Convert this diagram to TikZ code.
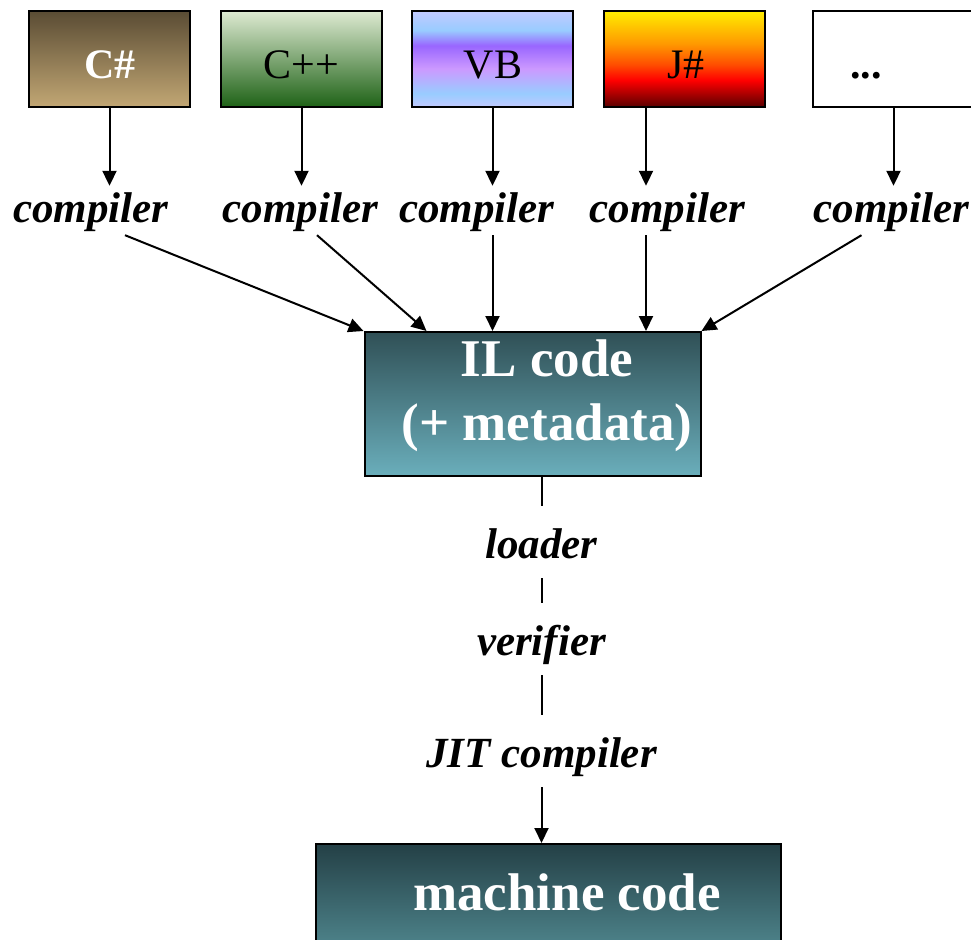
\documentclass[tikz,border=0pt]{standalone}
\usepackage{fontspec}
\setmainfont{Liberation Serif}
\usetikzlibrary{arrows.meta,shadings}
\pgfdeclareverticalshading{vbshade}{100bp}{rgb(0bp)=(0.76,0.79,1); rgb(25bp)=(0.76,0.79,1); rgb(32bp)=(0.6,0.8,1); rgb(45bp)=(0.8,0.6,1); rgb(57bp)=(0.6,0.4,1); rgb(65bp)=(0.6,0.8,1); rgb(75bp)=(0.76,0.79,1); rgb(100bp)=(0.76,0.79,1)}
\pgfdeclareverticalshading{jshade}{100bp}{rgb(0bp)=(0.35,0,0); rgb(25bp)=(0.35,0,0); rgb(39bp)=(1,0,0); rgb(47bp)=(1,0.3,0); rgb(58bp)=(1,0.6,0); rgb(75bp)=(1,0.93,0); rgb(100bp)=(1,0.93,0)}
\definecolor{cstop}{RGB}{90,76,52}
\definecolor{csbot}{RGB}{194,167,116}
\definecolor{cptop}{RGB}{222,234,210}
\definecolor{cpmid}{RGB}{146,180,105}
\definecolor{cpbot}{RGB}{30,98,22}
\definecolor{iltop}{RGB}{48,80,86}
\definecolor{ilbot}{RGB}{106,174,187}
\definecolor{mctop}{RGB}{36,64,70}
\definecolor{mcbot}{RGB}{95,160,168}
\begin{document}
\begin{tikzpicture}[x=1pt,y=-1pt,
  langbox/.style={draw=black, line width=2pt, rectangle, inner sep=0pt, minimum width=161pt, minimum height=96pt},
  bigbox/.style={draw=black, line width=2pt, rectangle, inner sep=0pt},
  boxlab/.style={anchor=base, inner sep=0pt, font=\fontsize{42}{46}\selectfont},
  toplab/.style={anchor=base, inner sep=0pt, text height=36pt, text depth=13pt, font=\fontsize{43}{48}\selectfont\bfseries\itshape},
  midlab/.style={anchor=base, inner sep=0pt, text height=52pt, text depth=20pt, font=\fontsize{43}{48}\selectfont\bfseries\itshape},
  biglab/.style={anchor=base, inner sep=0pt, text=white, font=\fontsize{53}{58}\selectfont\bfseries},
  conn/.style={line width=2pt},
  arr/.style={conn, -{Triangle[length=15pt,width=14pt]}}
]
\useasboundingbox (0,0) rectangle (971,939);
% language boxes
\node[langbox, top color=cstop, bottom color=csbot] (csharp) at (109.5,59) {};
\node[langbox, top color=cptop, middle color=cpmid, bottom color=cpbot] (cpp) at (301.5,59) {};
\node[langbox, shading=vbshade] (vb) at (492.5,59) {};
\node[langbox, shading=jshade] (jsharp) at (684.5,59) {};
\node[langbox, fill=white] (more) at (893.5,59) {};
\node[boxlab, text=white, font=\fontsize{42}{46}\selectfont\bfseries] (tcs) at (110,79) {C\#};
\node[boxlab] (tcp) at (301,79) {C++};
\node[boxlab] (tvb) at (493,79) {VB};
\node[boxlab] (tjs) at (686,79) {J\#};
\node[boxlab, font=\fontsize{42}{46}\selectfont\bfseries] (tmore) at (866,79) {...};
% compiler labels
\node[toplab] (c1) at (91,222) {compiler};
\node[toplab] (c2) at (300.5,222) {compiler};
\node[toplab] (c3) at (477,222) {compiler};
\node[toplab] (c4) at (667.5,222) {compiler};
\node[toplab] (c5) at (891.5,222) {compiler};
% IL box
\node[bigbox, minimum width=336pt, minimum height=143.5pt, top color=iltop, bottom color=ilbot] (il) at (532.5,403.75) {};
\node[biglab] (ilt1) at (547,376.5) {IL code};
\node[biglab] (ilt2) at (547,440) {(+ metadata)};
% machine code box
\node[bigbox, minimum width=465pt, minimum height=146pt, top color=mctop, bottom color=mcbot] (mc) at (548.5,917) {};
\node[biglab] (mct) at (567,910) {machine code};
% middle labels
\node[midlab] (loader) at (541.5,558) {loader};
\node[midlab] (verifier) at (541.5,655) {verifier};
\node[midlab] (jit) at (541.5,767) {JIT compiler};
% connectors
\coordinate (jx) at (646,0);
\draw[arr] (csharp.south) -- (csharp.south |- c1.north);
\draw[arr] (cpp.south) -- (cpp.south |- c2.north);
\draw[arr] (vb.south) -- (vb.south |- c3.north);
\draw[arr] (jx |- jsharp.south) -- (jx |- c4.north);
\draw[arr] (more.south) -- (more.south |- c5.north);
\draw[arr] ([xshift=34pt]c1.south) -- (il.north west);
\draw[arr] ([xshift=16.5pt]c2.south) -- ([xshift=63pt]il.north west);
\draw[arr] (vb.south |- c3.south) -- (vb.south |- il.north);
\draw[arr] (jx |- c4.south) -- (jx |- il.north);
\draw[arr] ([xshift=-30pt]c5.south) -- (il.north east);
\draw[conn] (loader.north |- il.south) -- (loader.north);
\draw[conn] (loader.south) -- (verifier.north);
\draw[conn] (verifier.south) -- (jit.north);
\draw[arr] (jit.south) -- (jit.south |- mc.north);
\end{tikzpicture}
\end{document}
